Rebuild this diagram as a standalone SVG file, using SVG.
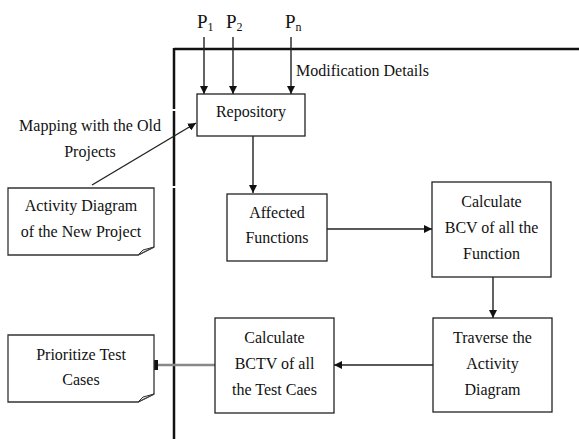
<svg xmlns="http://www.w3.org/2000/svg" width="579" height="439" viewBox="0 0 579 439">
<style>
text{font-family:'Liberation Serif','Times New Roman',serif;font-size:16px;fill:#111;}
.c{text-anchor:middle;}
.box{fill:#fff;stroke:#222;stroke-width:1.3;}
.note{fill:#fff;stroke:#333;stroke-width:1.3;}
.fold{fill:#eee;stroke:#333;stroke-width:1;}
.ln{stroke:#222;stroke-width:1.4;fill:none;}
.bd{stroke:#111;stroke-width:2.5;fill:none;}
.p{font-size:19px;}
.sub{font-size:12px;}
</style>
<defs>
<marker id="ah" viewBox="0 0 10 10" refX="10" refY="5" markerWidth="8" markerHeight="8" markerUnits="userSpaceOnUse" orient="auto">
<path d="M0,0 L10,5 L0,10 Z" fill="#111"/>
</marker>
<marker id="blk" viewBox="0 0 4 10" refX="0" refY="5" markerWidth="4" markerHeight="10" markerUnits="userSpaceOnUse" orient="auto">
<rect x="0" y="0" width="4" height="10" fill="#111"/>
</marker>
</defs>

<g id="boundary">
<path class="bd" d="M174,49 H579"/>
<path class="bd" d="M174,48 V109 M174,111 V186 M174,188 V439"/>
</g>

<g id="labels">
<text class="p" x="197" y="28">P<tspan class="sub" dy="3">1</tspan></text>
<text class="p" x="226" y="28">P<tspan class="sub" dy="3">2</tspan></text>
<text class="p" x="285" y="28">P<tspan class="sub" dy="3">n</tspan></text>
<text x="296" y="76">Modification Details</text>
<text class="c" x="90" y="131">Mapping with the Old</text>
<text class="c" x="90" y="157">Projects</text>
</g>

<g id="connectors">
<path class="ln" d="M204,37 V94" marker-end="url(#ah)"/>
<path class="ln" d="M233,37 V94" marker-end="url(#ah)"/>
<path class="ln" d="M291,37 V94" marker-end="url(#ah)"/>
<path class="ln" d="M92,185 L196,123" marker-end="url(#ah)"/>
<path class="ln" d="M253,136 V193" marker-end="url(#ah)"/>
<path class="ln" d="M327,229 H432" marker-end="url(#ah)"/>
<path class="ln" d="M493,277 V318" marker-end="url(#ah)"/>
<path class="ln" d="M433,365 H334" marker-end="url(#ah)"/>
<path d="M215,365 H158" stroke="#888" stroke-width="2.5" fill="none" marker-end="url(#blk)"/>
</g>

<g id="repository">
<rect class="box" x="197" y="94" width="108" height="42"/>
<text class="c" x="251" y="117">Repository</text>
</g>

<g id="activity-diagram">
<path class="note" d="M8,188 H154 V247 L138,255 H8 Z"/>
<path class="fold" d="M154,247 L143,250 L138,255 Z"/>
<text class="c" x="81" y="211">Activity Diagram</text>
<text class="c" x="81" y="237">of the New Project</text>
</g>

<g id="affected-functions">
<rect class="box" x="227" y="194" width="100" height="67"/>
<text class="c" x="277" y="218">Affected</text>
<text class="c" x="277" y="243">Functions</text>
</g>

<g id="calc-bcv">
<rect class="box" x="432" y="182" width="119" height="95"/>
<text class="c" x="491.5" y="207">Calculate</text>
<text class="c" x="491.5" y="233">BCV of all the</text>
<text class="c" x="491.5" y="259">Function</text>
</g>

<g id="traverse">
<rect class="box" x="433" y="318" width="119" height="94"/>
<text class="c" x="492.5" y="343">Traverse the</text>
<text class="c" x="492.5" y="369">Activity</text>
<text class="c" x="492.5" y="395">Diagram</text>
</g>

<g id="calc-bctv">
<rect class="box" x="215" y="318" width="119" height="95"/>
<text class="c" x="274.5" y="343">Calculate</text>
<text class="c" x="274.5" y="369">BCTV of all</text>
<text class="c" x="274.5" y="395">the Test Caes</text>
</g>

<g id="prioritize">
<path class="note" d="M8,335 H154 V394 L138,402 H8 Z"/>
<path class="fold" d="M154,394 L143,397 L138,402 Z"/>
<text class="c" x="81" y="360">Prioritize Test</text>
<text class="c" x="81" y="385">Cases</text>
</g>
</svg>
